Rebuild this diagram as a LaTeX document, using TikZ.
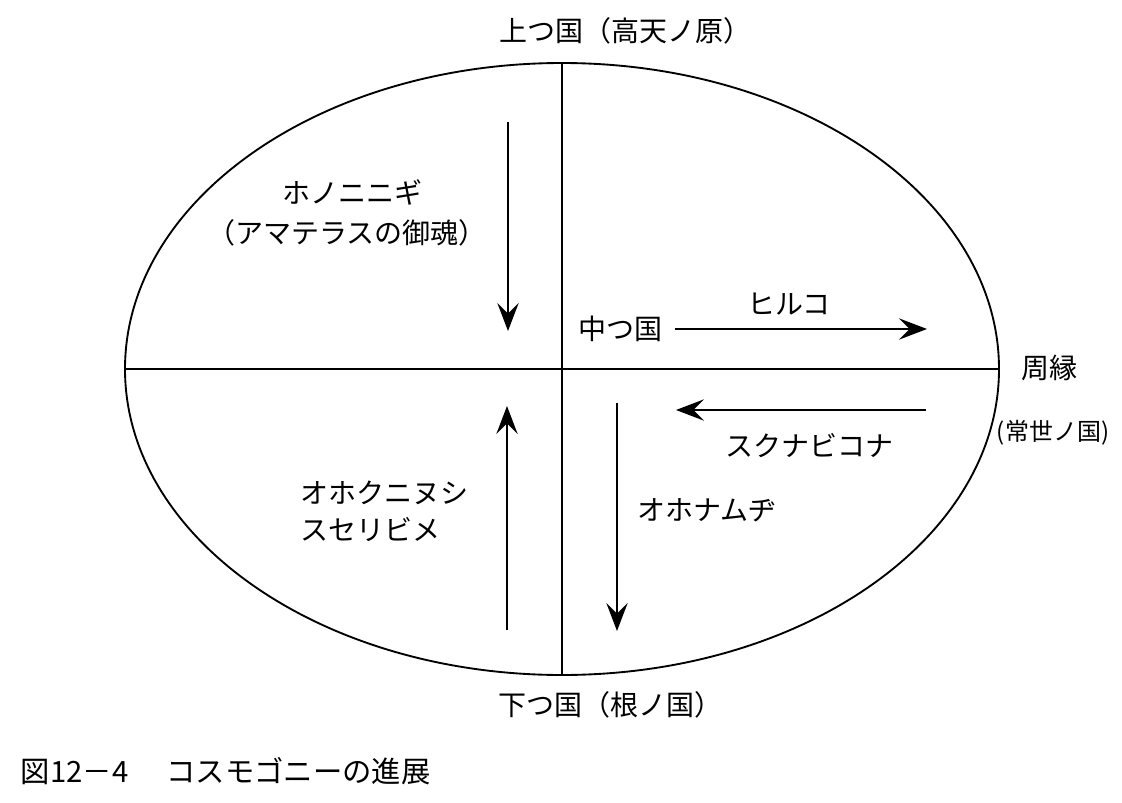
\documentclass[tikz,border=0pt]{standalone}
\usepackage{fontspec}
\usetikzlibrary{arrows.meta}
\newfontfamily\jpfont{Noto Sans CJK JP}

\begin{document}
\begin{tikzpicture}[x=0.75pt,y=-0.75pt,line width=1.4pt,
  label/.style={font=\jpfont\fontsize{21}{28}\selectfont,inner sep=0pt},
  small/.style={font=\jpfont\fontsize{18}{22}\selectfont,inner sep=0pt},
  flow/.style={-{Stealth[length=21pt,width=16pt,inset=8pt]}}]
\useasboundingbox (0,0) rectangle (1122,803);
\draw (562,369) ellipse [x radius=437,y radius=306];
\coordinate (top) at (562,63);
\coordinate (bottom) at (562,675);
\coordinate (west) at (125,369);
\coordinate (east) at (999,369);
\draw (top) -- (bottom);
\draw (west) -- (east);

\node[label] (takama) at (625,31) {上つ国（高天ノ原）};
\node[label] (ne) at (610,705) {下つ国（根ノ国）};
\node[label] (shuen) at (1049,368) {周縁};
\node[small] (tokoyo) at (1053,433) {(常世ノ国)};

\node[label] (hono) at (352,192) {ホノニニギ};
\node[label] (amaterasu) at (347,233) {（アマテラスの御魂）};
\coordinate (hono-start) at (508,122);
\coordinate (hono-end) at (508,331);
\draw[flow] (hono-start) -- (hono-end);

\node[label,anchor=west] (naka) at (578,329) {中つ国};
\node[label] (hiruko) at (789,304) {ヒルコ};
\coordinate (hiruko-end) at (927,329);
\draw[flow,shorten <=8pt] (naka.east) -- (hiruko-end);

\coordinate (sukuna-start) at (926,410);
\coordinate (sukuna-end) at (676,410);
\draw[flow] (sukuna-start) -- (sukuna-end);
\node[label] (sukuna) at (809,446) {スクナビコナ};

\coordinate (onamuchi-start) at (617,403);
\coordinate (onamuchi-end) at (617,631);
\draw[flow] (onamuchi-start) -- (onamuchi-end);
\node[label] (onamuchi) at (707,510) {オホナムヂ};

\coordinate (okuni-start) at (507,630);
\coordinate (okuni-end) at (507,406);
\draw[flow] (okuni-start) -- (okuni-end);
\node[label,anchor=west,align=left] (okuni) at (300,511) {オホクニヌシ\\スセリビメ};

\node[label,font=\jpfont\fontsize{22}{28}\selectfont,anchor=west] (caption) at (20,771) {図12－4\hspace{1.3em}コスモゴニーの進展};
\end{tikzpicture}
\end{document}
